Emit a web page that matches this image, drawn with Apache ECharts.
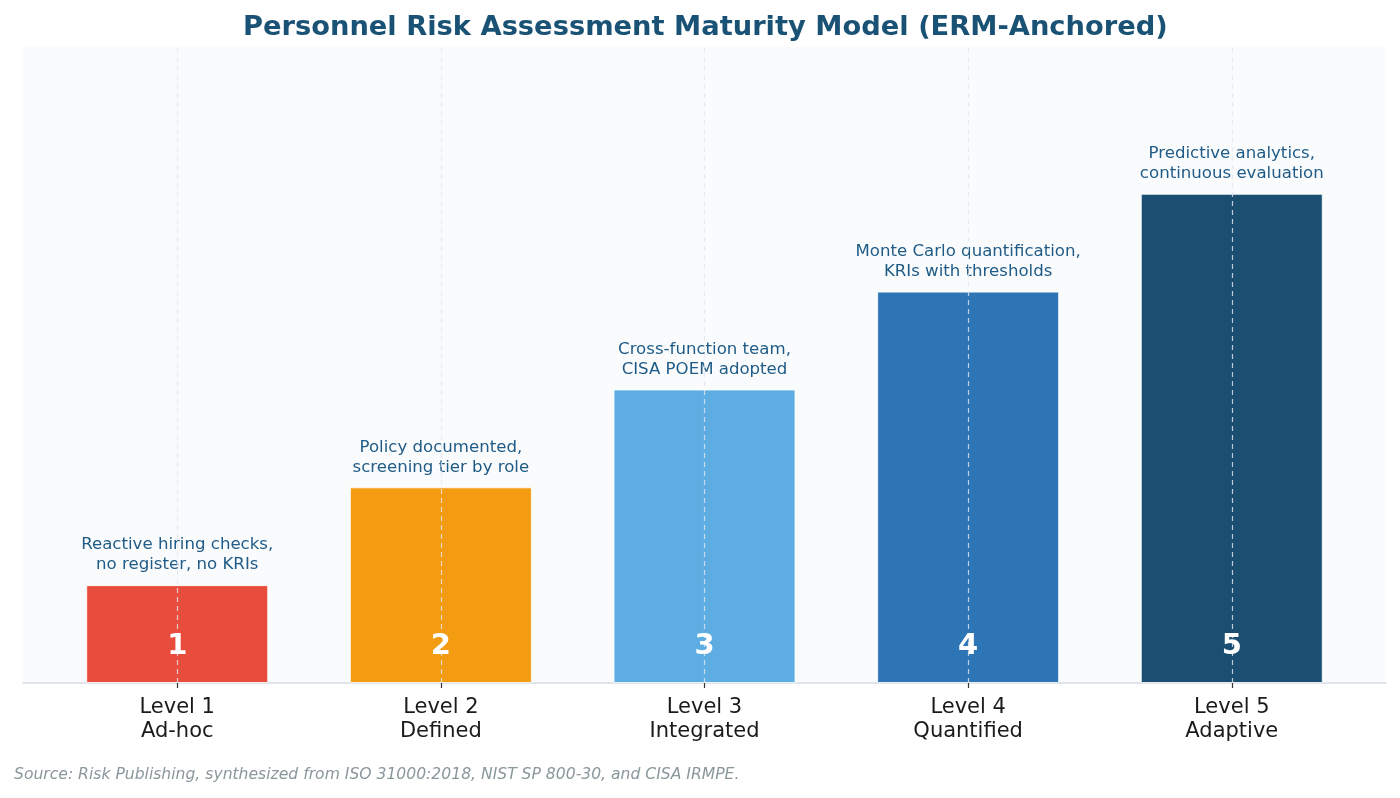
<!DOCTYPE html>
<html>
<head>
<meta charset="utf-8">
<script src="https://cdn.jsdelivr.net/npm/echarts@6/dist/echarts.min.js"></script>
<style>
  html, body { margin: 0; padding: 0; background: #fff; }
  #chart { width: 1400px; height: 798px; }
</style>
</head>
<body>
<div id="chart"></div>
<script>
var levels = ['Level 1\nAd-hoc', 'Level 2\nDefined', 'Level 3\nIntegrated', 'Level 4\nQuantified', 'Level 5\nAdaptive'];
var scores = [1, 2, 3, 4, 5];
var notes = [
    'Reactive hiring checks,\nno register, no KRIs',
    'Policy documented,\nscreening tier by role',
    'Cross-function team,\nCISA POEM adopted',
    'Monte Carlo quantification,\nKRIs with thresholds',
    'Predictive analytics,\ncontinuous evaluation'
];
var colors = ['#e74c3c', '#f39c12', '#5dade2', '#2e75b6', '#1b4f72'];
var positions = [0, 1, 2, 3, 4];

var myChart = echarts.init(document.getElementById('chart'));
var font = 'DejaVu Sans';

var option = {
    backgroundColor: '#ffffff',
    animation: false,
    title: {
        text: 'Personnel Risk Assessment Maturity Model (ERM-Anchored)',
        left: 238,
        top: 9,
        textStyle: { fontFamily: font, fontSize: 27.3, fontWeight: 'bold', color: '#1a5276' }
    },
    graphic: [{
        type: 'text',
        left: 14,
        top: 767,
        style: {
            text: 'Source: Risk Publishing, synthesized from ISO 31000:2018, NIST SP 800-30, and CISA IRMPE.',
            fontFamily: font, fontSize: 15.6, fontStyle: 'italic', fill: '#8a979b'
        }
    }],
    grid: {
        left: 23, right: 14, top: 47, bottom: 115,
        show: true, backgroundColor: '#f9fbfd', borderWidth: 0
    },
    xAxis: {
        type: 'value',
        min: -0.585,
        max: 4.585,
        axisLine: { show: true, onZero: false, lineStyle: { color: '#d5dde4', width: 1.5 } },
        axisTick: { show: true, customValues: positions, length: 5, lineStyle: { color: '#333', width: 1.2 } },
        axisLabel: {
            customValues: positions,
            formatter: function (v) { return levels[Math.round(v)]; },
            fontFamily: font, fontSize: 21, color: '#1a1a1a', lineHeight: 24, margin: 13
        },
        splitLine: { show: false }
    },
    yAxis: {
        type: 'value', min: 0, max: 6.5, show: false,
        splitLine: { show: false }
    },
    series: [{
        type: 'bar',
        barWidth: 182,
        data: scores.map(function (v, i) {
            return { value: [positions[i], v], itemStyle: { color: colors[i] } };
        }),
        itemStyle: { borderColor: 'rgba(255,255,255,0.8)', borderWidth: 1 },
        label: {
            show: true,
            position: 'top',
            distance: 10,
            formatter: function (p) { return notes[p.dataIndex]; },
            fontFamily: font, fontSize: 16.6, color: '#1f5b86', lineHeight: 20
        },
        markLine: {
            silent: true,
            symbol: 'none',
            label: { show: false },
            lineStyle: { type: [5, 4], color: 'rgba(226,232,240,0.8)', width: 1.2 },
            data: positions.map(function (p) { return { xAxis: p }; })
        },
        z: 2
    }, {
        type: 'scatter',
        symbolSize: 0,
        itemStyle: { opacity: 1 },
        data: scores.map(function (v, i) { return [positions[i], 0]; }),
        label: {
            show: true,
            position: 'top',
            distance: 22,
            formatter: function (p) { return String(scores[p.dataIndex]); },
            fontFamily: font, fontSize: 29, fontWeight: 900, color: '#ffffff', opacity: 1
        },
        z: 10
    }]
};

myChart.setOption(option);
</script>
</body>
</html>
